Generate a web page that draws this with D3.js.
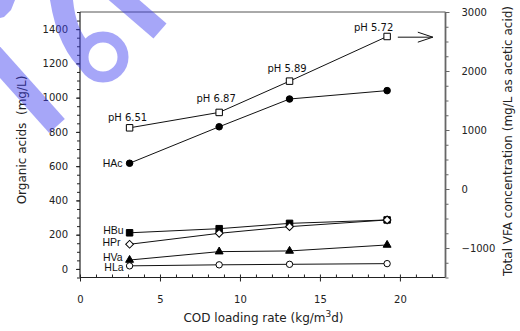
<!DOCTYPE html>
<html>
<head>
<meta charset="utf-8">
<script src="https://cdn.jsdelivr.net/npm/d3@7"></script>
<style>
  body { margin: 0; background: #fff; }
  svg { display: block; }
  .tick text { font-family: "DejaVu Sans", sans-serif; font-size: 10px; fill: #222; }
  .title { font-family: "DejaVu Sans", sans-serif; font-size: 12px; fill: #222; white-space: pre; }
  .series { font-family: "Liberation Sans", Arial, sans-serif; font-size: 10.5px; fill: #111; }
  .ph { font-family: "DejaVu Sans", sans-serif; font-size: 10px; fill: #111; }
</style>
</head>
<body>
<div id="main"></div>
<script>
//data
const loading = [3.1, 8.7, 13.1, 19.2];
const totalVfa = [1037, 1298, 1828, 2585];
const phLabels = ["pH 6.51", "pH 6.87", "pH 5.89", "pH 5.72"];
const hac = [617, 830, 992, 1041];
const hbu = [211, 235, 266, 286];
const hpr = [144, 208, 247, 286];
const hva = [52, 101, 105, 140];
const hla = [18, 24, 27, 31];
const seriesNames = ["HAc", "HBu", "HPr", "HVa", "HLa"];
const leftTicks = [0, 200, 400, 600, 800, 1000, 1200, 1400];
const rightTicks = [-1000, 0, 1000, 2000, 3000];
const xTicks = [0, 5, 10, 15, 20];

//sizes
const width = 520;
const height = 331;
const plotLeft = 80, plotRight = 445.5, plotTop = 12, plotBottom = 277.5;

const svg = d3.select('#main')
  .append('svg')
  .attr('width', width)
  .attr('height', height);

//scales
var xScale = d3.scaleLinear().domain([0, 22.85]).range([plotLeft, plotRight]);
var yScale = d3.scaleLinear().domain([-50, 1500]).range([plotBottom, plotTop]);
var yRight = d3.scaleLinear().domain([-1500, 3000]).range([plotBottom, plotTop]);

//minor ticks
var xMinor = d3.axisTop(xScale).tickValues(d3.range(0, 23, 1)).tickSize(3).tickFormat("");
var yMinor = d3.axisLeft(yScale).tickValues(d3.range(-50, 1501, 50)).tickSize(3).tickFormat("");
var rMinor = d3.axisRight(yRight).tickValues(d3.range(-1500, 3001, 250)).tickSize(3).tickFormat("");

//major ticks
var xAxis = d3.axisBottom(xScale).tickValues(xTicks).tickSize(4).tickPadding(14.4).tickFormat(d3.format("d"));
var yAxis = d3.axisLeft(yScale).tickValues(leftTicks).tickSize(4).tickPadding(8).tickFormat(d3.format("d"));
var rAxis = d3.axisRight(yRight).tickValues(rightTicks).tickSize(4).tickPadding(12).tickFormat(d3.format("d"));

function drawAxis(axis, transform, color){
  var g = svg.append('g').attr('transform', transform).call(axis);
  g.select('.domain').remove();
  g.selectAll('line').attr('stroke', color);
  return g;
}

drawAxis(xMinor, "translate(0," + plotBottom + ")", "#222");
drawAxis(xAxis, "translate(0," + plotBottom + ")", "#222");
drawAxis(yMinor, "translate(" + plotLeft + ",0)", "#222");
drawAxis(yAxis, "translate(" + plotLeft + ",0)", "#222");
drawAxis(rMinor, "translate(" + plotRight + ",0)", "#666");
drawAxis(rAxis, "translate(" + plotRight + ",0)", "#666");

//frame lines
svg.append('line').attr('x1', plotLeft).attr('x2', plotRight).attr('y1', plotTop).attr('y2', plotTop)
   .attr('stroke', '#555').attr('stroke-width', 1);
svg.append('line').attr('x1', plotLeft).attr('x2', plotRight).attr('y1', plotBottom).attr('y2', plotBottom)
   .attr('stroke', '#222').attr('stroke-width', 1.2);
svg.append('line').attr('x1', plotLeft).attr('x2', plotLeft).attr('y1', plotTop).attr('y2', plotBottom)
   .attr('stroke', '#222').attr('stroke-width', 1.2);
svg.append('line').attr('x1', plotRight).attr('x2', plotRight).attr('y1', plotTop).attr('y2', plotBottom)
   .attr('stroke', '#666').attr('stroke-width', 1.8);

//axis titles
svg.append('text').attr('class', 'title')
   .attr('transform', 'translate(26,140) rotate(-90)')
   .attr('text-anchor', 'middle')
   .text("Organic acids  (mg/L)");

svg.append('text').attr('class', 'title')
   .attr('transform', 'translate(512,141) rotate(-90)')
   .attr('text-anchor', 'middle')
   .text("Total VFA concentration (mg/L as acetic acid)");

var xt = svg.append('text').attr('class', 'title')
   .attr('x', 263.5).attr('y', 322).attr('text-anchor', 'middle');
xt.append('tspan').text("COD loading rate (kg/m");
xt.append('tspan').attr('dy', -5).style('font-size', '9px').text("3");
xt.append('tspan').attr('dy', 5).text("d)");

//lines
var leftLine = d3.line().x(function(d, i){ return xScale(loading[i]); }).y(function(d){ return yScale(d); });
var rightLine = d3.line().x(function(d, i){ return xScale(loading[i]); }).y(function(d){ return yRight(d); });

var leftSeries = [hac, hbu, hpr, hva, hla];
leftSeries.forEach(function(s){
  svg.append('path').attr('d', leftLine(s)).attr('fill', 'none').attr('stroke', '#111').attr('stroke-width', 1);
});
svg.append('path').attr('d', rightLine(totalVfa)).attr('fill', 'none').attr('stroke', '#111').attr('stroke-width', 1);

//markers
function markers(data, scale, shape, size, filled, rotate){
  svg.append('g').selectAll('path').data(data).enter().append('path')
     .attr('d', d3.symbol().type(shape).size(size))
     .attr('transform', function(d, i){
        return "translate(" + xScale(loading[i]) + "," + scale(d) + ")" + (rotate ? " rotate(45)" : "");
     })
     .attr('fill', filled ? '#000' : '#fff')
     .attr('stroke', '#000').attr('stroke-width', 1);
}
markers(totalVfa, yRight, d3.symbolSquare, 42, false);
markers(hac, yScale, d3.symbolCircle, 34, true);
markers(hbu, yScale, d3.symbolSquare, 42, true);
markers(hpr, yScale, d3.symbolSquare, 30, false, true);
markers(hva, yScale, d3.symbolTriangle, 27, true);
markers(hla, yScale, d3.symbolCircle, 32, false);

//pH labels
var phDx = [-2, -3, -2.5, -13.5];
var phDy = [-7, -10.6, -9.3, -5.3];
svg.append('g').selectAll('text').data(phLabels).enter().append('text')
   .attr('class', 'ph').attr('text-anchor', 'middle')
   .attr('x', function(d, i){ return xScale(loading[i]) + phDx[i]; })
   .attr('y', function(d, i){ return yRight(totalVfa[i]) + phDy[i]; })
   .text(function(d){ return d; });

//series labels
var labelDy = [3.5, 0.8, 2, 1, 5];
var labelDx = [-7, -6, -9, -7, -6];
svg.append('g').selectAll('text').data(seriesNames).enter().append('text')
   .attr('class', 'series').attr('text-anchor', 'end')
   .attr('x', function(d, i){ return xScale(loading[0]) + labelDx[i]; })
   .attr('y', function(d, i){ return yScale(leftSeries[i][0]) + labelDy[i]; })
   .text(function(d){ return d; });

//arrow towards right axis
var ax = xScale(loading[3]) + 10.7;
var ay = yRight(totalVfa[3]) + 0.7;
svg.append('line').attr('x1', ax).attr('x2', ax + 35).attr('y1', ay).attr('y2', ay)
   .attr('stroke', '#111').attr('stroke-width', 1);
svg.append('path').attr('d', "M" + (ax + 20) + "," + (ay - 5) + "L" + (ax + 35) + "," + ay + "L" + (ax + 20) + "," + (ay + 5))
   .attr('fill', 'none').attr('stroke', '#111').attr('stroke-width', 1);

//watermark on top
var wm = svg.append('g').attr('opacity', 0.45);
var wmColor = "#3c3cf0";
wm.append('path').attr('d', "M0,0L15,0L11,10L4,17L0,18Z").attr('fill', wmColor);
wm.append('line').attr('x1', -20).attr('y1', 40).attr('x2', 57).attr('y2', 126)
  .attr('stroke', wmColor).attr('stroke-width', 21);
wm.append('path').attr('d', "M50,0L73,0Q76,30 90,44L84,72Q58,50 50,0Z").attr('fill', wmColor);
wm.append('circle').attr('cx', 103).attr('cy', 57).attr('r', 20)
  .attr('fill', 'none').attr('stroke', wmColor).attr('stroke-width', 11);
wm.append('line').attr('x1', 95).attr('y1', -25).attr('x2', 160).attr('y2', 31)
  .attr('stroke', wmColor).attr('stroke-width', 20);
</script>
</body>
</html>
